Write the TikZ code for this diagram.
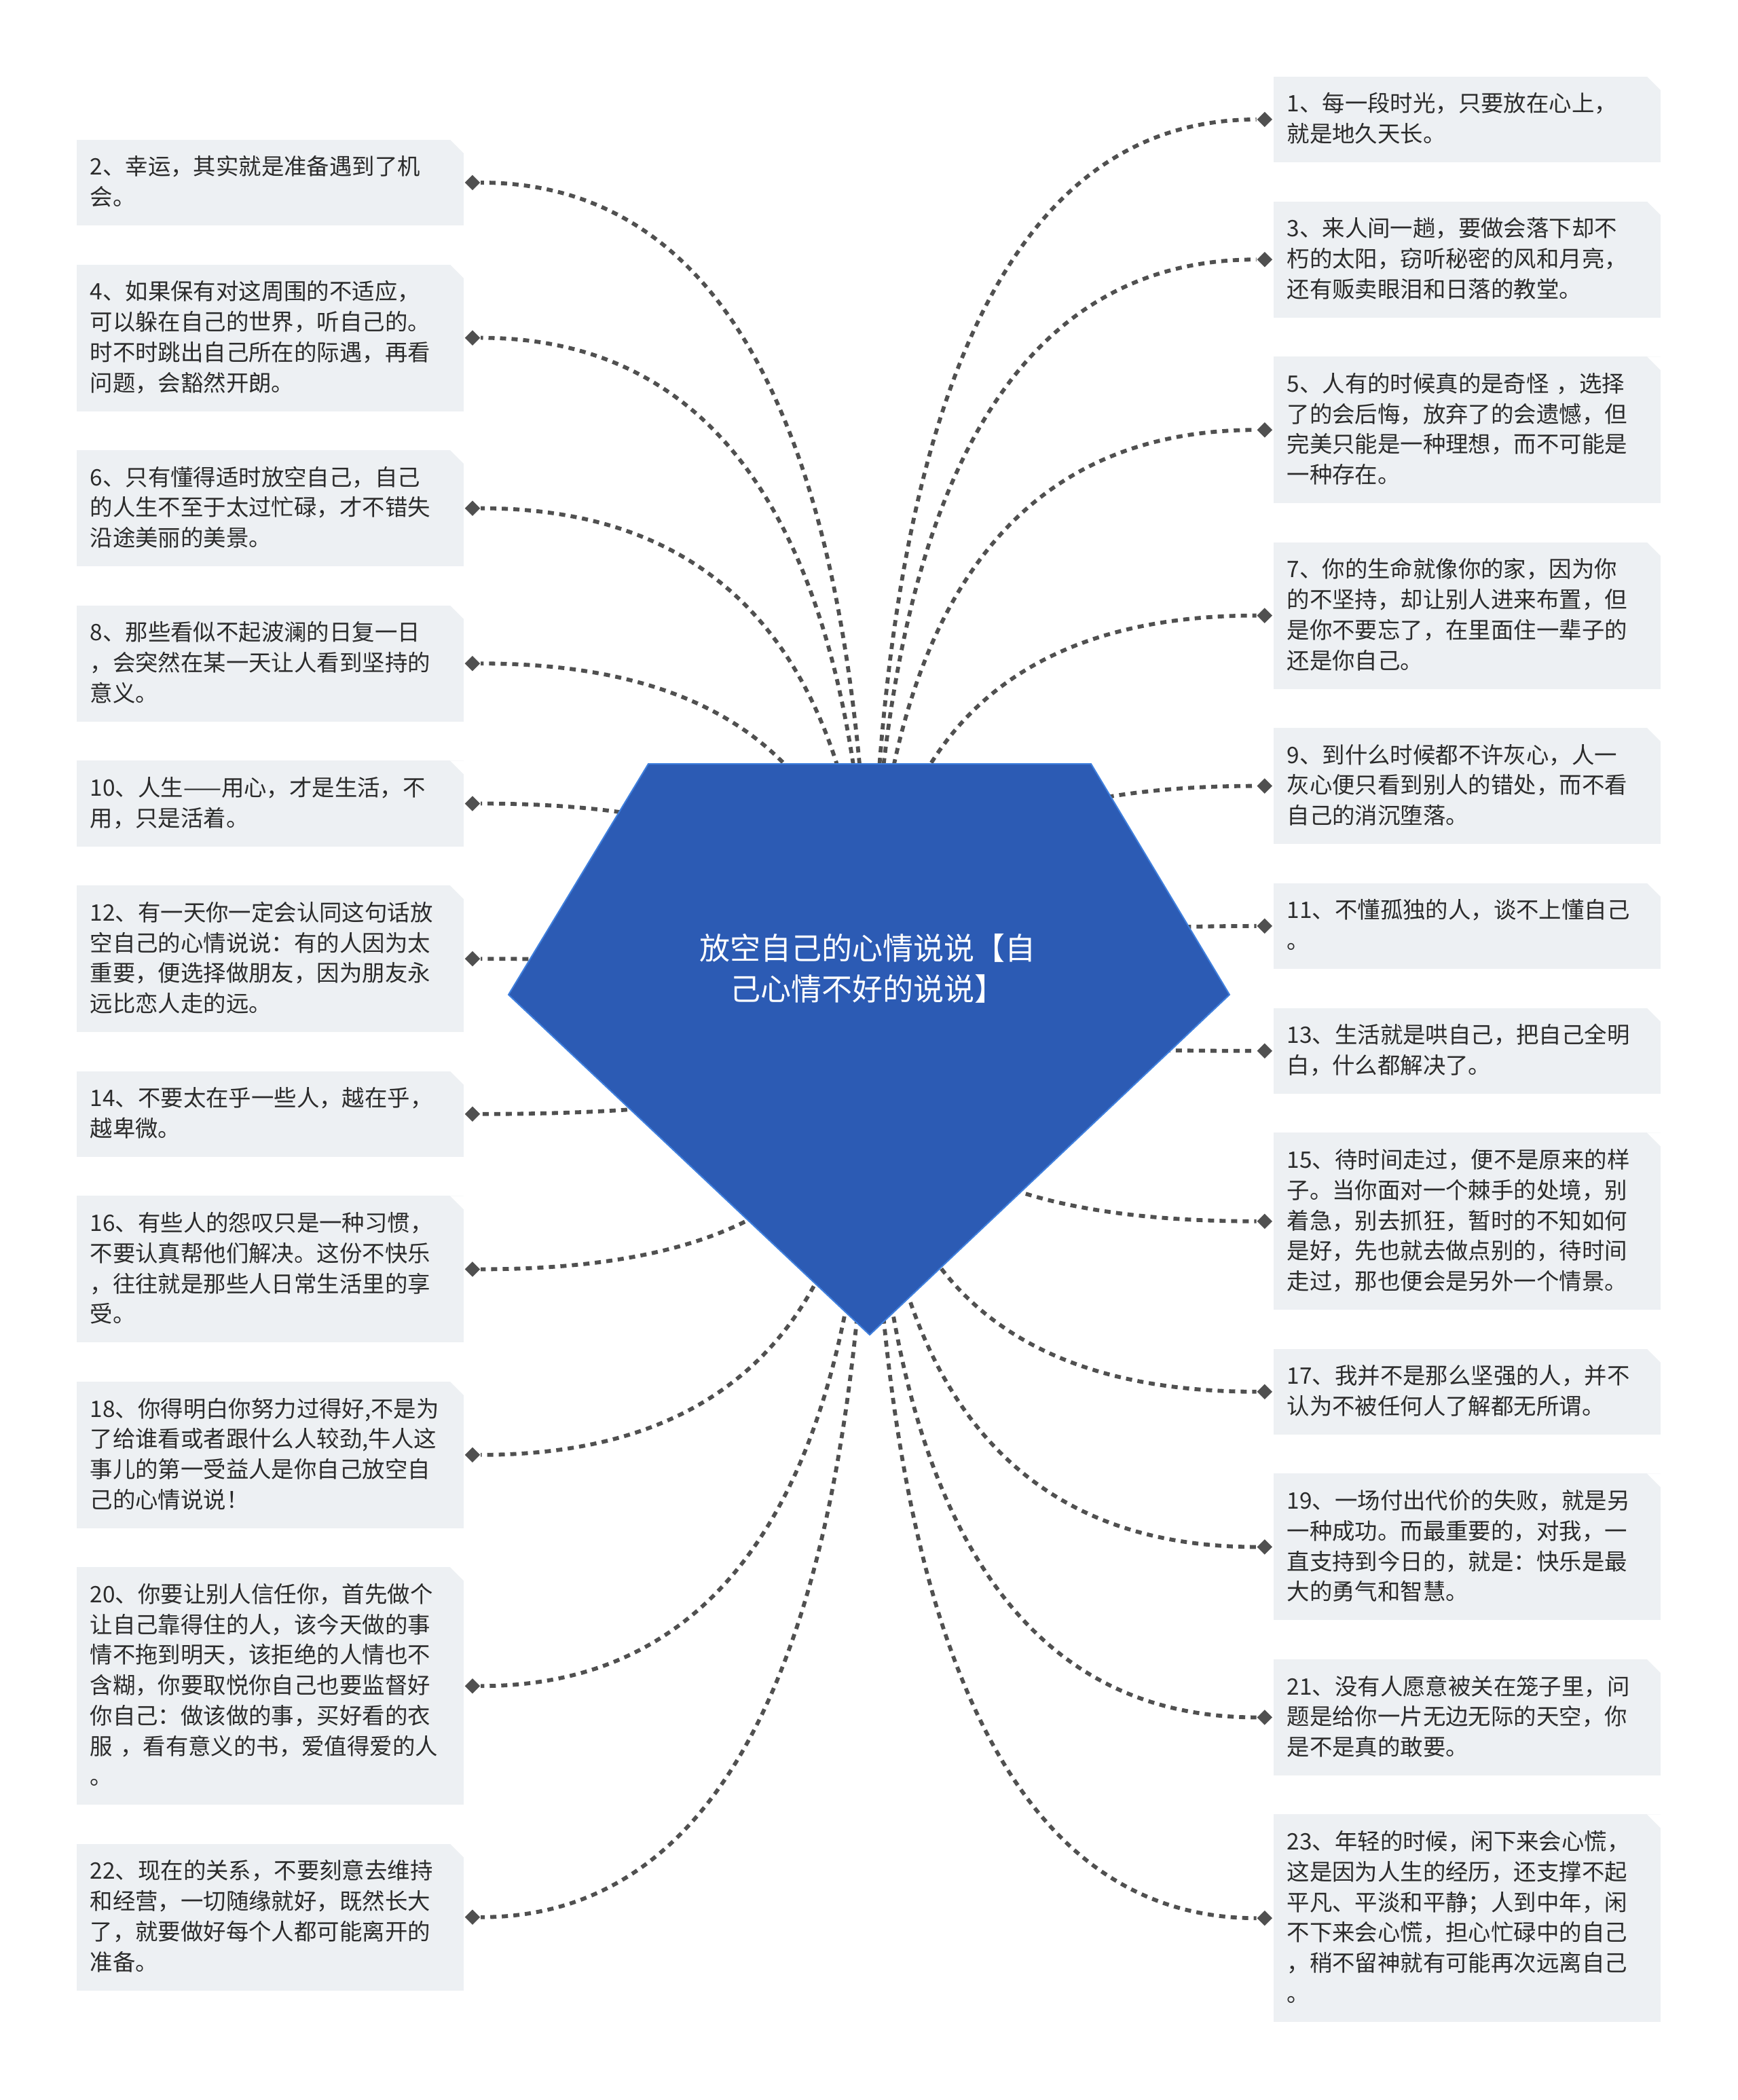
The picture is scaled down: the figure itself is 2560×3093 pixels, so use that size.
\documentclass[tikz,border=0pt]{standalone}
\usepackage{fontspec}
\setmainfont{Noto Sans CJK SC}
\usepackage{tikz}
\usetikzlibrary{positioning,shapes.geometric,calc,backgrounds}
\definecolor{mmink}{HTML}{2B2B2B}
\definecolor{mmcard}{HTML}{EDF0F3}
\definecolor{mmlink}{HTML}{505050}
\definecolor{mmblue}{HTML}{2C5BB4}
\definecolor{mmedge}{HTML}{3F7FDD}
\newcommand\lstrut{\rule[-0.11cm]{0pt}{0.447cm}}
\tikzset{
  card/.style={fill=mmcard,text=mmink,font=\fontsize{9.5pt}{0.447cm}\selectfont,align=left,text width=5.3cm,inner xsep=0.2cm,inner ysep=0.185cm,execute at begin node=\lstrut,execute at end node=\lstrut,
    path picture={\fill[white]([xshift=-0.2cm]path picture bounding box.north east)--(path picture bounding box.north east)--([yshift=-0.2cm]path picture bounding box.north east)--cycle;}},
  dot/.style={diamond,fill=mmlink,inner sep=0pt,minimum size=0.23cm},
  lnk/.style={draw=mmlink,line width=0.058cm,dash pattern=on 0.09cm off 0.08cm},
  rootlbl/.style={text=white,font=\fontsize{12.8pt}{0.6cm}\selectfont,align=center,inner sep=0pt},
}
\begin{document}
\begin{tikzpicture}[x=0.01cm,y=-0.01cm]
  \useasboundingbox (0,0) rectangle (2560,3093);
  % left column
  \node[card,anchor=north west] (b2) at (112,205) {2、幸运，其实就是准备遇到了机\\会。};
  \node[card,below=0.56cm of b2] (b4) {4、如果保有对这周围的不适应，\\可以躲在自己的世界，听自己的。\\时不时跳出自己所在的际遇，再看\\问题，会豁然开朗。};
  \node[card,below=0.56cm of b4] (b6) {6、只有懂得适时放空自己，自己\\的人生不至于太过忙碌，才不错失\\沿途美丽的美景。};
  \node[card,below=0.56cm of b6] (b8) {8、那些看似不起波澜的日复一日\\，会突然在某一天让人看到坚持的\\意义。};
  \node[card,below=0.56cm of b8] (b10) {10、人生——用心，才是生活，不\\用，只是活着。};
  \node[card,below=0.56cm of b10] (b12) {12、有一天你一定会认同这句话放\\空自己的心情说说：有的人因为太\\重要，便选择做朋友，因为朋友永\\远比恋人走的远。};
  \node[card,below=0.56cm of b12] (b14) {14、不要太在乎一些人，越在乎，\\越卑微。};
  \node[card,below=0.56cm of b14] (b16) {16、有些人的怨叹只是一种习惯，\\不要认真帮他们解决。这份不快乐\\，往往就是那些人日常生活里的享\\受。};
  \node[card,below=0.56cm of b16] (b18) {18、你得明白你努力过得好,不是为\\了给谁看或者跟什么人较劲,牛人这\\事儿的第一受益人是你自己放空自\\己的心情说说！};
  \node[card,below=0.56cm of b18] (b20) {20、你要让别人信任你，首先做个\\让自己靠得住的人，该今天做的事\\情不拖到明天，该拒绝的人情也不\\含糊，你要取悦你自己也要监督好\\你自己：做该做的事，买好看的衣\\服 ，看有意义的书，爱值得爱的人\\。};
  \node[card,below=0.56cm of b20] (b22) {22、现在的关系，不要刻意去维持\\和经营，一切随缘就好，既然长大\\了，就要做好每个人都可能离开的\\准备。};
  % right column
  \node[card,anchor=north west] (b1) at (1875,112) {1、每一段时光，只要放在心上，\\就是地久天长。};
  \node[card,below=0.56cm of b1] (b3) {3、来人间一趟，要做会落下却不\\朽的太阳，窃听秘密的风和月亮，\\还有贩卖眼泪和日落的教堂。};
  \node[card,below=0.56cm of b3] (b5) {5、人有的时候真的是奇怪 ，选择\\了的会后悔，放弃了的会遗憾，但\\完美只能是一种理想，而不可能是\\一种存在。};
  \node[card,below=0.56cm of b5] (b7) {7、你的生命就像你的家，因为你\\的不坚持，却让别人进来布置，但\\是你不要忘了，在里面住一辈子的\\还是你自己。};
  \node[card,below=0.56cm of b7] (b9) {9、到什么时候都不许灰心，人一\\灰心便只看到别人的错处，而不看\\自己的消沉堕落。};
  \node[card,below=0.56cm of b9] (b11) {11、不懂孤独的人，谈不上懂自己\\。};
  \node[card,below=0.56cm of b11] (b13) {13、生活就是哄自己，把自己全明\\白，什么都解决了。};
  \node[card,below=0.56cm of b13] (b15) {15、待时间走过，便不是原来的样\\子。当你面对一个棘手的处境，别\\着急，别去抓狂，暂时的不知如何\\是好，先也就去做点别的，待时间\\走过，那也便会是另外一个情景。};
  \node[card,below=0.56cm of b15] (b17) {17、我并不是那么坚强的人，并不\\认为不被任何人了解都无所谓。};
  \node[card,below=0.56cm of b17] (b19) {19、一场付出代价的失败，就是另\\一种成功。而最重要的，对我，一\\直支持到今日的，就是：快乐是最\\大的勇气和智慧。};
  \node[card,below=0.56cm of b19] (b21) {21、没有人愿意被关在笼子里，问\\题是给你一片无边无际的天空，你\\是不是真的敢要。};
  \node[card,below=0.56cm of b21] (b23) {23、年轻的时候，闲下来会心慌，\\这是因为人生的经历，还支撑不起\\平凡、平淡和平静；人到中年，闲\\不下来会心慌，担心忙碌中的自己\\，稍不留神就有可能再次远离自己\\。};
  % markers
  \foreach \i in {2,4,...,22} \node[dot,anchor=west] (d\i) at (b\i.east) {};
  \foreach \i in {1,3,...,23} \node[dot,anchor=east] (d\i) at (b\i.west) {};
  % root
  \coordinate (hub) at (1282,1499);
  \node[rootlbl] (root) at (1278,1426) {放空自己的心情说说【自\\己心情不好的说说】};
  \begin{scope}[on background layer]
    \foreach \i in {1,...,23}
      \draw[lnk] (hub) .. controls ($(hub)!0.667!(hub|-d\i)$) and ($(d\i)!0.667!(hub|-d\i)$) .. (d\i);
    \filldraw[fill=mmblue,draw=mmedge,line width=0.02cm] (955,1125) -- (1607,1125) -- (1811,1465) -- (1281,1966) -- (749,1465) -- cycle;
  \end{scope}
\end{tikzpicture}
\end{document}
